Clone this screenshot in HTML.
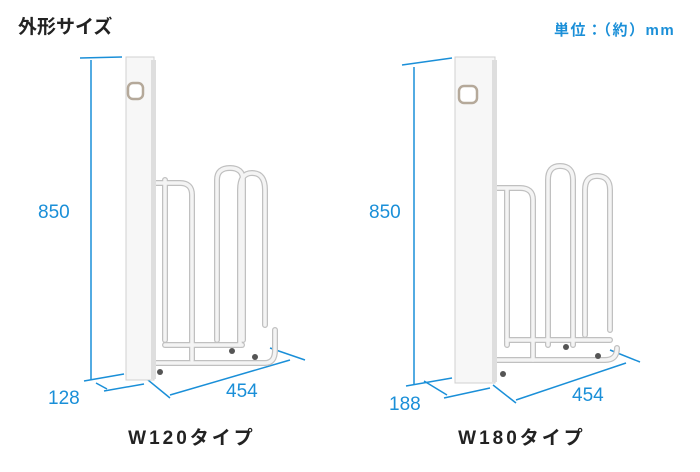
<!DOCTYPE html>
<html><head><meta charset="utf-8"><style>
body{margin:0;background:#fff;width:700px;height:467px;overflow:hidden;font-family:"Liberation Sans","Noto Sans CJK JP",sans-serif}
</style></head><body>
<svg width="700" height="467" viewBox="0 0 700 467" xmlns="http://www.w3.org/2000/svg" style="font-family:'Liberation Sans','Noto Sans CJK JP',sans-serif">
<text x="18" y="33" font-size="19" font-weight="bold" fill="#222">外形サイズ</text>
<text x="554" y="35" font-size="15" fill="#1a8fd8" font-weight="bold" letter-spacing="1.5">単位：（約）mm</text>
<g stroke="#1a8fd8" stroke-width="1.5" fill="none">
<line x1="80" y1="58" x2="122" y2="57"/><line x1="91" y1="60" x2="91" y2="380"/>
<line x1="84" y1="381" x2="124" y2="374"/><line x1="96" y1="383" x2="107" y2="389"/>
<line x1="104" y1="391" x2="144" y2="384"/>
<line x1="148" y1="380" x2="170" y2="398"/><line x1="270" y1="348" x2="305" y2="360"/>
<line x1="170" y1="395" x2="290" y2="360"/>
<line x1="402" y1="65" x2="452" y2="58"/><line x1="414" y1="67" x2="414" y2="385"/>
<line x1="406" y1="386" x2="452" y2="378"/><line x1="424" y1="381" x2="447" y2="395"/>
<line x1="444" y1="398" x2="490" y2="388"/>
<line x1="493" y1="385" x2="516" y2="403"/><line x1="610" y1="350" x2="640" y2="362"/>
<line x1="516" y1="400" x2="626" y2="363"/>
</g>
<g fill="#1a8fd8" font-size="19">
<text x="38" y="218">850</text><text x="48" y="404">128</text><text x="226" y="397">454</text>
<text x="369" y="218">850</text><text x="389" y="410">188</text><text x="572" y="401">454</text>
</g>
<g fill="none" stroke-linecap="round">
<g stroke="#c0c0c0" stroke-width="6">
<path d="M155 183 H180 Q192 183 192 195 V360"/><path d="M165 180 V340"/>
<path d="M217 340 V180 Q217 168 230 168 Q243 168 243 180 V340"/>
<path d="M240 345 V190 Q240 173 252 173 Q265 173 265 190 V325"/>
<path d="M155 363 H265 Q275 363 275 350 V330"/><path d="M165 345 H242"/>
</g>
<g stroke="#f4f4f4" stroke-width="3.5">
<path d="M155 183 H180 Q192 183 192 195 V360"/><path d="M165 180 V340"/>
<path d="M217 340 V180 Q217 168 230 168 Q243 168 243 180 V340"/>
<path d="M240 345 V190 Q240 173 252 173 Q265 173 265 190 V325"/>
<path d="M155 363 H265 Q275 363 275 350 V330"/><path d="M165 345 H242"/>
</g></g>
<g fill="#555"><circle cx="160" cy="372" r="3"/><circle cx="232" cy="351" r="3"/><circle cx="255" cy="357" r="3"/></g>
<rect x="126" y="57" width="28" height="323" fill="#f7f7f7" stroke="#d0d0d0"/>
<rect x="151" y="60" width="5" height="319" fill="#dedede"/>
<rect x="128" y="83" width="15" height="16" rx="5" fill="#fff" stroke="#b5a99a" stroke-width="2.5"/>
<g fill="none" stroke-linecap="round">
<g stroke="#c0c0c0" stroke-width="6">
<path d="M497 188 H520 Q533 188 533 200 V360"/><path d="M507 190 V345"/>
<path d="M548 345 V180 Q548 166 560 166 Q573 166 573 180 V345"/>
<path d="M585 335 V190 Q585 176 597 176 Q610 176 610 190 V330"/>
<path d="M497 360 H605 Q617 360 617 348"/><path d="M507 340 H610"/>
</g>
<g stroke="#f4f4f4" stroke-width="3.5">
<path d="M497 188 H520 Q533 188 533 200 V360"/><path d="M507 190 V345"/>
<path d="M548 345 V180 Q548 166 560 166 Q573 166 573 180 V345"/>
<path d="M585 335 V190 Q585 176 597 176 Q610 176 610 190 V330"/>
<path d="M497 360 H605 Q617 360 617 348"/><path d="M507 340 H610"/>
</g></g>
<g fill="#555"><circle cx="503" cy="374" r="3"/><circle cx="566" cy="347" r="3"/><circle cx="598" cy="356" r="3"/></g>
<rect x="455" y="57" width="40" height="326" fill="#f7f7f7" stroke="#d0d0d0"/>
<rect x="492" y="60" width="5" height="322" fill="#dedede"/>
<rect x="459" y="86" width="18" height="17" rx="5" fill="#fff" stroke="#b5a99a" stroke-width="2.5"/>
<text x="192" y="444" font-size="19" font-weight="bold" fill="#222" text-anchor="middle" letter-spacing="3">W120タイプ</text>
<text x="522" y="444" font-size="19" font-weight="bold" fill="#222" text-anchor="middle" letter-spacing="3">W180タイプ</text>
</svg>
</body></html>
